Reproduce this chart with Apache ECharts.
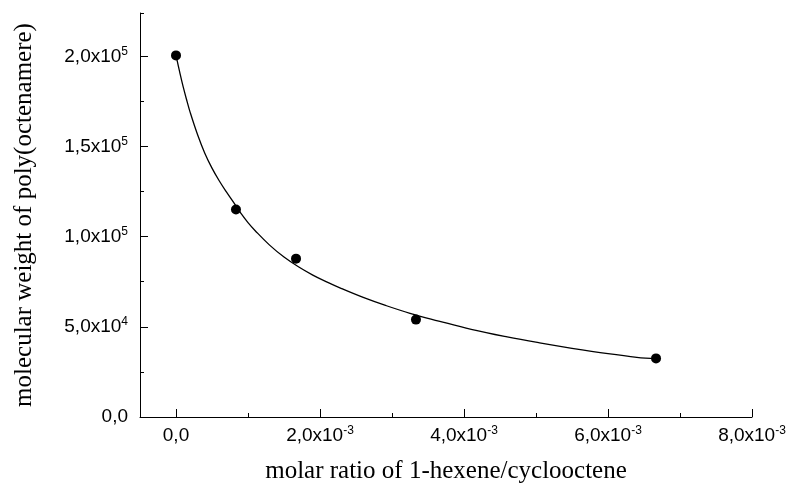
<!DOCTYPE html>
<html>
<head>
<meta charset="utf-8">
<script src="https://cdn.jsdelivr.net/npm/echarts@6/dist/echarts.min.js"></script>
<style>
  html, body { margin: 0; padding: 0; background: #fff; }
  #chart { width: 788px; height: 486px; }
</style>
</head>
<body>
<div id="chart"></div>
<script>
// measured points
var ratio = [0, 0.000833, 0.001667, 0.003333, 0.006667];
var weight = [200500, 115000, 87800, 54000, 32500];

// fitted curve
var fitRatio = [0, 0.00005, 0.0001, 0.00015, 0.0002, 0.0003, 0.0004, 0.0005, 0.0006, 0.0007,
  0.0008, 0.0009, 0.001, 0.0011, 0.0013, 0.0015, 0.0017, 0.0019, 0.0021, 0.0023,
  0.0026, 0.0029, 0.00325, 0.00365, 0.0041, 0.0046, 0.00505, 0.0055, 0.006, 0.0064, 0.00667];
var fitWeight = [200500, 191500, 183000, 175500, 168500, 156500, 146300, 138000, 131000, 124800,
  119000, 113000, 107800, 103300, 95300, 88700, 83300, 78700, 74800, 71200,
  66300, 62000, 57500, 53200, 48600, 44400, 41100, 38100, 35100, 33100, 32300];

// tick labels
var xMajor = [0, 0.002, 0.004, 0.006, 0.008];
var xMinor = [0.001, 0.003, 0.005, 0.007];
var yMajor = [0, 50000, 100000, 150000, 200000];
var yMinor = [25000, 75000, 125000, 175000, 224000];

var chart = echarts.init(document.getElementById('chart'));

var labelFont = 'Liberation Sans, Arial, sans-serif';
var nameFont = 'Liberation Serif, Times New Roman, serif';
var rich = {
  sup: { fontSize: 12, lineHeight: 12, verticalAlign: 'top', fontFamily: labelFont, color: '#000' }
};

function fmtX(v) {
  if (Math.abs(v) < 1e-12) return '0,0';
  return (v / 1e-3).toFixed(1).replace('.', ',') + 'x10{sup|-3}';
}
function fmtY(v) {
  if (v === 0) return '0,0';
  var e = v >= 100000 ? 5 : 4;
  return (v / Math.pow(10, e)).toFixed(1).replace('.', ',') + 'x10{sup|' + e + '}';
}

var fit = fitRatio.map(function (x, i) { return [x, fitWeight[i]]; });
var pts = ratio.map(function (x, i) { return [x, weight[i]]; });

var option = {
  backgroundColor: '#fff',
  animation: false,
  grid: { left: 140, right: 36, top: 13, bottom: 69, containLabel: false, outerBoundsMode: 'none' },
  xAxis: [{
    type: 'value', min: -0.0005, max: 0.008,
    name: 'molar ratio of 1-hexene/cyclooctene',
    nameLocation: 'middle', nameGap: 42,
    nameTextStyle: { fontFamily: nameFont, fontSize: 25, color: '#000' },
    axisLine: { show: true, onZero: false, lineStyle: { color: '#000', width: 1 } },
    axisTick: { show: true, inside: true, length: 8, customValues: xMajor, lineStyle: { color: '#000' } },
    axisLabel: { customValues: xMajor, formatter: fmtX, rich: rich, margin: 8,
      fontFamily: labelFont, fontSize: 19, lineHeight: 22, color: '#000' },
    splitLine: { show: false }
  }, {
    type: 'value', min: -0.0005, max: 0.008, position: 'bottom',
    axisLine: { show: false, onZero: false },
    axisTick: { show: true, inside: true, length: 4, customValues: xMinor, lineStyle: { color: '#000' } },
    axisLabel: { show: false },
    splitLine: { show: false }
  }],
  yAxis: [{
    type: 'value', min: 0, max: 224000,
    name: 'molecular weight of poly(octenamere)',
    nameLocation: 'middle', nameGap: 103,
    nameTextStyle: { fontFamily: nameFont, fontSize: 25, color: '#000' },
    axisLine: { show: true, onZero: false, lineStyle: { color: '#000', width: 1 } },
    axisTick: { show: true, inside: true, length: 8, customValues: yMajor, lineStyle: { color: '#000' } },
    axisLabel: { customValues: yMajor, formatter: fmtY, rich: rich, margin: 12,
      fontFamily: labelFont, fontSize: 19, lineHeight: 22, color: '#000' },
    splitLine: { show: false }
  }, {
    type: 'value', min: 0, max: 224000, position: 'left',
    axisLine: { show: false, onZero: false },
    axisTick: { show: true, inside: true, length: 4, customValues: yMinor, lineStyle: { color: '#000' } },
    axisLabel: { show: false },
    splitLine: { show: false }
  }],
  series: [{
    type: 'line',
    data: fit,
    smooth: 0.4,
    symbol: 'none',
    lineStyle: { color: '#000', width: 1.3 },
    xAxisIndex: 0, yAxisIndex: 0
  }, {
    type: 'scatter',
    data: pts,
    symbol: 'circle',
    symbolSize: 10,
    itemStyle: { color: '#000', opacity: 1 },
    xAxisIndex: 0, yAxisIndex: 0
  }]
};
chart.setOption(option);
</script>
</body>
</html>
